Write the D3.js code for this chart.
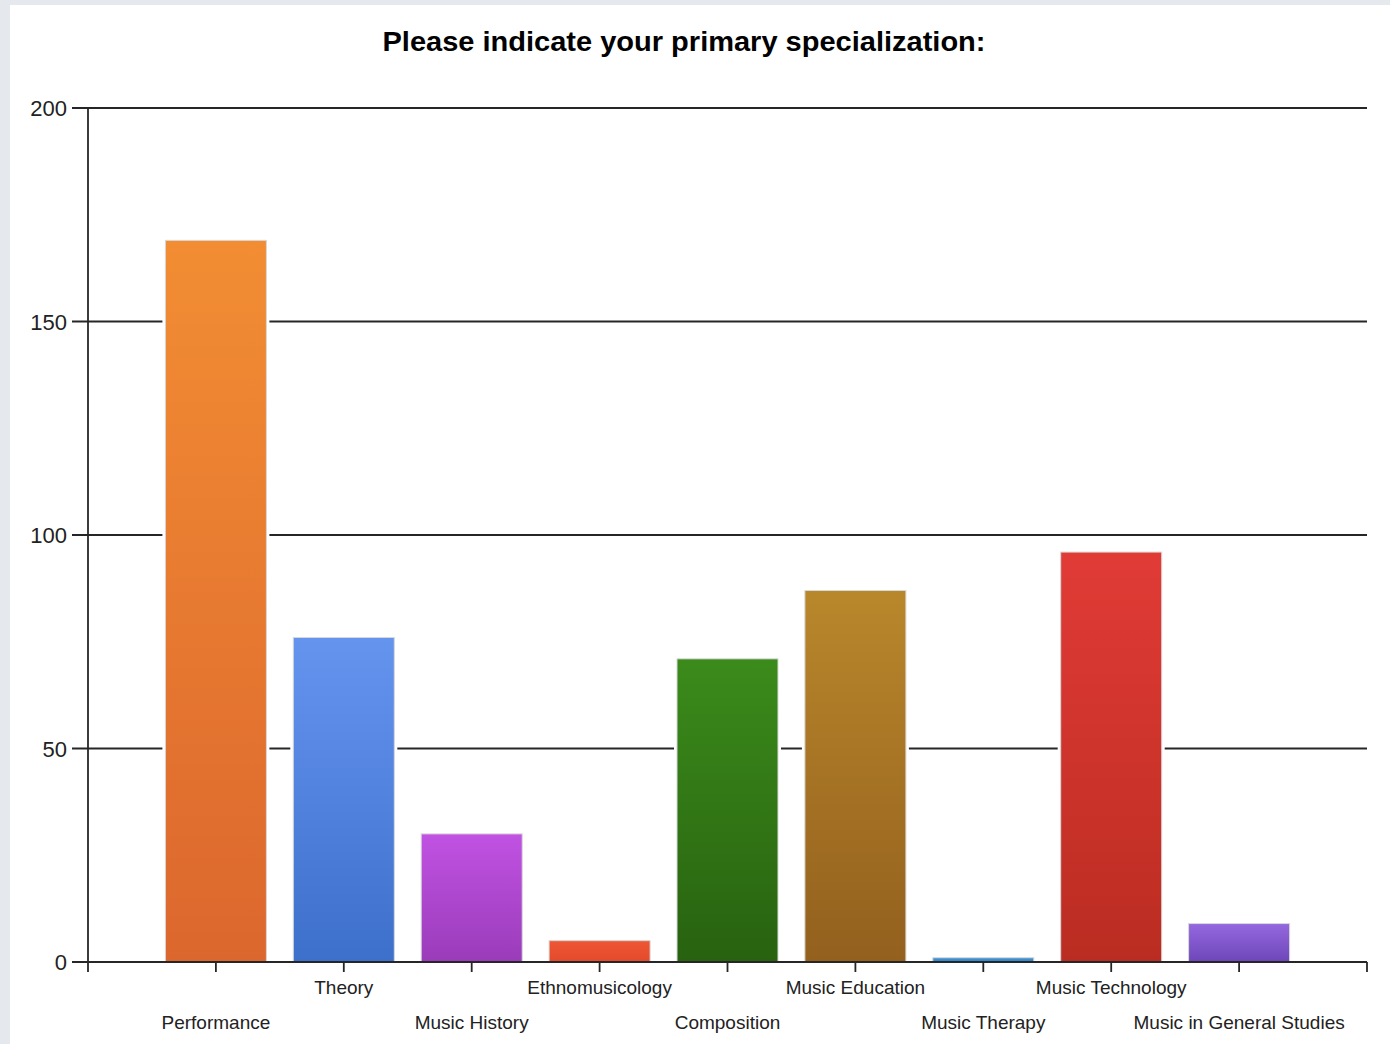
<!DOCTYPE html>
<html><head><meta charset="utf-8">
<script src="https://cdn.jsdelivr.net/npm/d3@7"></script>
<style>
html,body{margin:0;padding:0;background:#e5e8ec;}
svg{display:block;}
</style></head>
<body>
<svg id="chart" width="1390" height="1044"></svg>
<script>
const title = "Please indicate your primary specialization:";
const categories = ["Performance","Theory","Music History","Ethnomusicology","Composition","Music Education","Music Therapy","Music Technology","Music in General Studies"];
const values = [169, 76, 30, 5, 71, 87, 1, 96, 9];
const colorsTop = ["#f28d33","#6594ef","#c152e2","#ef5634","#3b8b1b","#b9872b","#4294d4","#e13b36","#9468df"];
const colorsBottom = ["#dc672e","#3d70cb","#9a3cba","#e24a2c","#286210","#93601e","#3383c4","#ba2c21","#6f46ba"];
const yTicks = [0, 50, 100, 150, 200];

const svg = d3.select("#chart");
svg.append("rect").attr("x",10).attr("y",5).attr("width",1380).attr("height",1039).attr("fill","#fff");

const x = d3.scaleLinear().domain([0, categories.length + 1]).range([88, 1367]);
const y = d3.scaleLinear().domain([0, 200]).range([962, 108]);
const barW = 101;

const defs = svg.append("defs");
categories.forEach((c,i)=>{
  const g = defs.append("linearGradient").attr("id","g"+i).attr("x1",0).attr("y1",0).attr("x2",0).attr("y2",1);
  g.append("stop").attr("offset","0%").attr("stop-color",colorsTop[i]);
  g.append("stop").attr("offset","100%").attr("stop-color",colorsBottom[i]);
});

svg.append("text").attr("x",684).attr("y",51).attr("text-anchor","middle")
  .attr("font-family","Liberation Sans, Arial, sans-serif").attr("font-weight","bold")
  .attr("font-size",28).attr("textLength",603).attr("lengthAdjust","spacingAndGlyphs")
  .attr("fill","#000").text(title);

// gridlines
svg.append("g").selectAll("line").data(yTicks).join("line")
  .attr("x1",72).attr("x2",1367).attr("y1",d=>y(d)).attr("y2",d=>y(d))
  .attr("stroke","#262626").attr("stroke-width",1.8);

// y labels
svg.append("g").selectAll("text").data(yTicks).join("text")
  .attr("x",67).attr("y",d=>y(d)+8).attr("text-anchor","end")
  .attr("font-family","Liberation Sans, Arial, sans-serif").attr("font-size",22)
  .attr("fill","#222").text(d=>d);

// y axis line
svg.append("line").attr("x1",88).attr("x2",88).attr("y1",108).attr("y2",972)
  .attr("stroke","#262626").attr("stroke-width",1.8);

// bars: white halo then fill
const bars = svg.append("g");
bars.selectAll("rect.halo").data(values).join("rect").attr("class","halo")
  .attr("x",(d,i)=>x(i+1)-barW/2-3).attr("width",barW+6)
  .attr("y",d=>y(d)-3).attr("height",d=>y(0)-y(d)+2)
  .attr("fill","#fff");
bars.selectAll("rect.bar").data(values).join("rect").attr("class","bar")
  .attr("x",(d,i)=>x(i+1)-barW/2).attr("width",barW)
  .attr("y",d=>y(d)).attr("height",d=>y(0)-y(d))
  .attr("fill",(d,i)=>`url(#g${i})`)
  .attr("stroke","#d8d8d8").attr("stroke-width",1);

// x axis line
svg.append("line").attr("x1",88).attr("x2",1367).attr("y1",y(0)).attr("y2",y(0))
  .attr("stroke","#262626").attr("stroke-width",1.8);
const xt = d3.range(1, categories.length + 2);
svg.append("g").selectAll("line").data(xt).join("line")
  .attr("x1",d=>x(d)).attr("x2",d=>x(d)).attr("y1",y(0)).attr("y2",y(0)+10)
  .attr("stroke","#262626").attr("stroke-width",1.8);

// x labels, staggered
svg.append("g").selectAll("text").data(categories).join("text")
  .attr("x",(d,i)=>x(i+1)).attr("y",(d,i)=>i%2===0?1029:994)
  .attr("text-anchor","middle")
  .attr("font-family","Liberation Sans, Arial, sans-serif").attr("font-size",19)
  .attr("fill","#222").text(d=>d);
</script>
</body></html>
